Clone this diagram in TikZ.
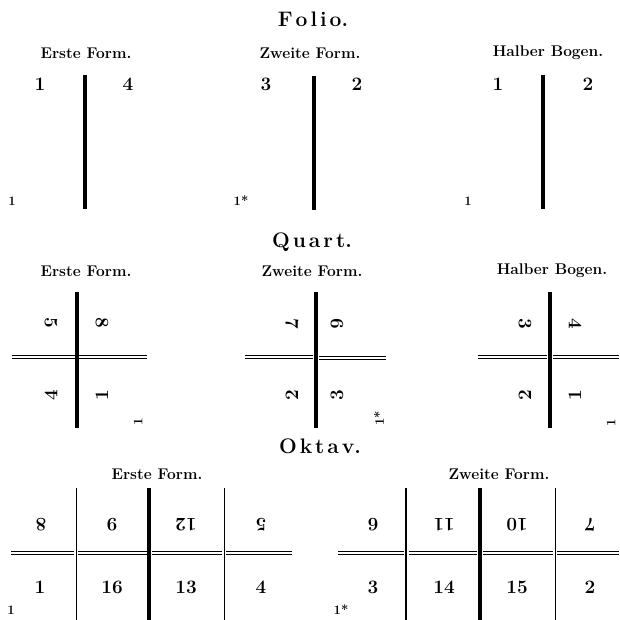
\documentclass[tikz,border=0pt]{standalone}
\tikzset{
  ttl/.style={font=\fontsize{21}{21}\selectfont\bfseries, inner sep=0pt},
  sub/.style={font=\fontsize{15.5}{15.5}\selectfont\bfseries, inner sep=0pt},
  num/.style={font=\fontsize{19}{19}\selectfont\bfseries, inner sep=0pt},
  sig/.style={font=\fontsize{13}{13}\selectfont\bfseries, inner sep=0pt},
  thickrule/.style={line width=3.8pt},
  thinrule/.style={line width=1pt},
  dblrule/.style={double, line width=1pt, double distance=2.2pt}
}
\begin{document}
\begin{tikzpicture}[x=1pt,y=-1pt]
\useasboundingbox (0,0) rectangle (619,620);
% ---------- Folio ----------
\node[ttl] (folio) at (313,19) {F\kern3pt o\kern3pt l\kern3pt i\kern3pt o.};
\node[sub] (f1t) at (86,53) {Erste Form.};
\node[sub] (f2t) at (310,53) {Zweite Form.};
\node[sub] (f3t) at (548,53) {Halber Bogen.};
\coordinate (fl1a) at (85,75);  \coordinate (fl1b) at (85,209);
\coordinate (fl2a) at (314,76); \coordinate (fl2b) at (314,210);
\coordinate (fl3a) at (543,75); \coordinate (fl3b) at (543,209);
\draw[thickrule] (fl1a) -- (fl1b);
\draw[thickrule] (fl2a) -- (fl2b);
\draw[thickrule] (fl3a) -- (fl3b);
\node[num] (fa1) at (40,84) {1};
\node[num] (fa4) at (128,84) {4};
\node[num] (fb3) at (266,84) {3};
\node[num] (fb2) at (357,84) {2};
\node[num] (fc1) at (498,84) {1};
\node[num] (fc2) at (588,84) {2};
\node[sig] (fs1) at (12,201) {1};
\node[sig] (fs2) at (241,201) {1*};
\node[sig] (fs3) at (468,201) {1};
% ---------- Quart ----------
\node[ttl] (quart) at (312,242) {Q\kern3pt u\kern3pt a\kern3pt r\kern3pt t.};
\node[sub] (q1t) at (86,271) {Erste Form.};
\node[sub] (q2t) at (312,271) {Zweite Form.};
\node[sub] (q3t) at (552,271) {Halber Bogen.};
\coordinate (ql1a) at (77,292);  \coordinate (ql1b) at (77,428);
\coordinate (ql2a) at (316,292); \coordinate (ql2b) at (316,428);
\coordinate (ql3a) at (550,292); \coordinate (ql3b) at (550,428);
\draw[dblrule] (12,357) -- (75,357);   \draw[dblrule] (79,357) -- (147,357);
\draw[dblrule] (245,357) -- (313,357); \draw[dblrule] (319,358) -- (386,358);
\draw[dblrule] (478,357) -- (547,357); \draw[dblrule] (553,357) -- (619,357);
\draw[thickrule] (ql1a) -- (ql1b);
\draw[thickrule] (ql2a) -- (ql2b);
\draw[thickrule] (ql3a) -- (ql3b);
\node[num, rotate=-90] (qa5) at (51,323) {5};
\node[num, rotate=-90] (qa8) at (102,323) {8};
\node[num, rotate=90]  (qa4) at (51,395) {4};
\node[num, rotate=90]  (qa1) at (102,395) {1};
\node[num, rotate=-90] (qb7) at (292,324) {7};
\node[num, rotate=-90] (qb6) at (337,324) {6};
\node[num, rotate=90]  (qb2) at (292,395) {2};
\node[num, rotate=90]  (qb3) at (337,395) {3};
\node[num, rotate=-90] (qc3) at (525,324) {3};
\node[num, rotate=-90] (qc4) at (575,324) {4};
\node[num, rotate=90]  (qc2) at (525,395) {2};
\node[num, rotate=90]  (qc1) at (575,395) {1};
\node[sig, rotate=90] (qs1) at (138,422) {1};
\node[sig, rotate=90] (qs2) at (379,418) {1*};
\node[sig, rotate=90] (qs3) at (611,423) {1};
% ---------- Oktav ----------
\node[ttl] (oktav) at (320,446) {O\kern3pt k\kern3pt t\kern3pt a\kern3pt v.};
\node[sub] (o1t) at (157,474) {Erste Form.};
\node[sub] (o2t) at (499,474) {Zweite Form.};
\draw[dblrule] (11,553) -- (74,553);   \draw[dblrule] (78,553) -- (147,553);
\draw[dblrule] (152,553) -- (222,553); \draw[dblrule] (226,553) -- (292,553);
\draw[dblrule] (338,553) -- (404,553); \draw[dblrule] (409,553) -- (477,553);
\draw[dblrule] (483,553) -- (553,553); \draw[dblrule] (557,553) -- (619,553);
\coordinate (ol1a) at (76,488);  \coordinate (ol1b) at (76,620);
\coordinate (ol2a) at (149,488); \coordinate (ol2b) at (149,620);
\coordinate (ol3a) at (224,488); \coordinate (ol3b) at (224,620);
\coordinate (ol4a) at (406,488); \coordinate (ol4b) at (406,620);
\coordinate (ol5a) at (480,488); \coordinate (ol5b) at (480,620);
\coordinate (ol6a) at (555,488); \coordinate (ol6b) at (555,620);
\draw[thinrule] (ol1a) -- (ol1b);
\draw[thickrule] (ol2a) -- (ol2b);
\draw[thinrule] (ol3a) -- (ol3b);
\draw[thinrule, line width=1.4pt] (ol4a) -- (ol4b);
\draw[thickrule] (ol5a) -- (ol5b);
\draw[thinrule] (ol6a) -- (ol6b);
\node[num, rotate=180] (oa8) at (41,525) {8};
\node[num, rotate=180] (oa9) at (112,525) {9};
\node[num, rotate=180] (oa12) at (186,525) {12};
\node[num, rotate=180] (oa5) at (261,525) {5};
\node[num] (oa1) at (40,587) {1};
\node[num] (oa16) at (112,587) {16};
\node[num] (oa13) at (186,587) {13};
\node[num] (oa4) at (261,587) {4};
\node[num, rotate=180] (ob6) at (373,525) {6};
\node[num, rotate=180] (ob11) at (444,525) {11};
\node[num, rotate=180] (ob10) at (517,525) {10};
\node[num, rotate=180] (ob7) at (590,525) {7};
\node[num] (ob3) at (373,587) {3};
\node[num] (ob14) at (444,587) {14};
\node[num] (ob15) at (517,587) {15};
\node[num] (ob2) at (590,587) {2};
\node[sig] (os1) at (11,610) {1};
\node[sig] (os2) at (341,610) {1*};
\end{tikzpicture}
\end{document}
